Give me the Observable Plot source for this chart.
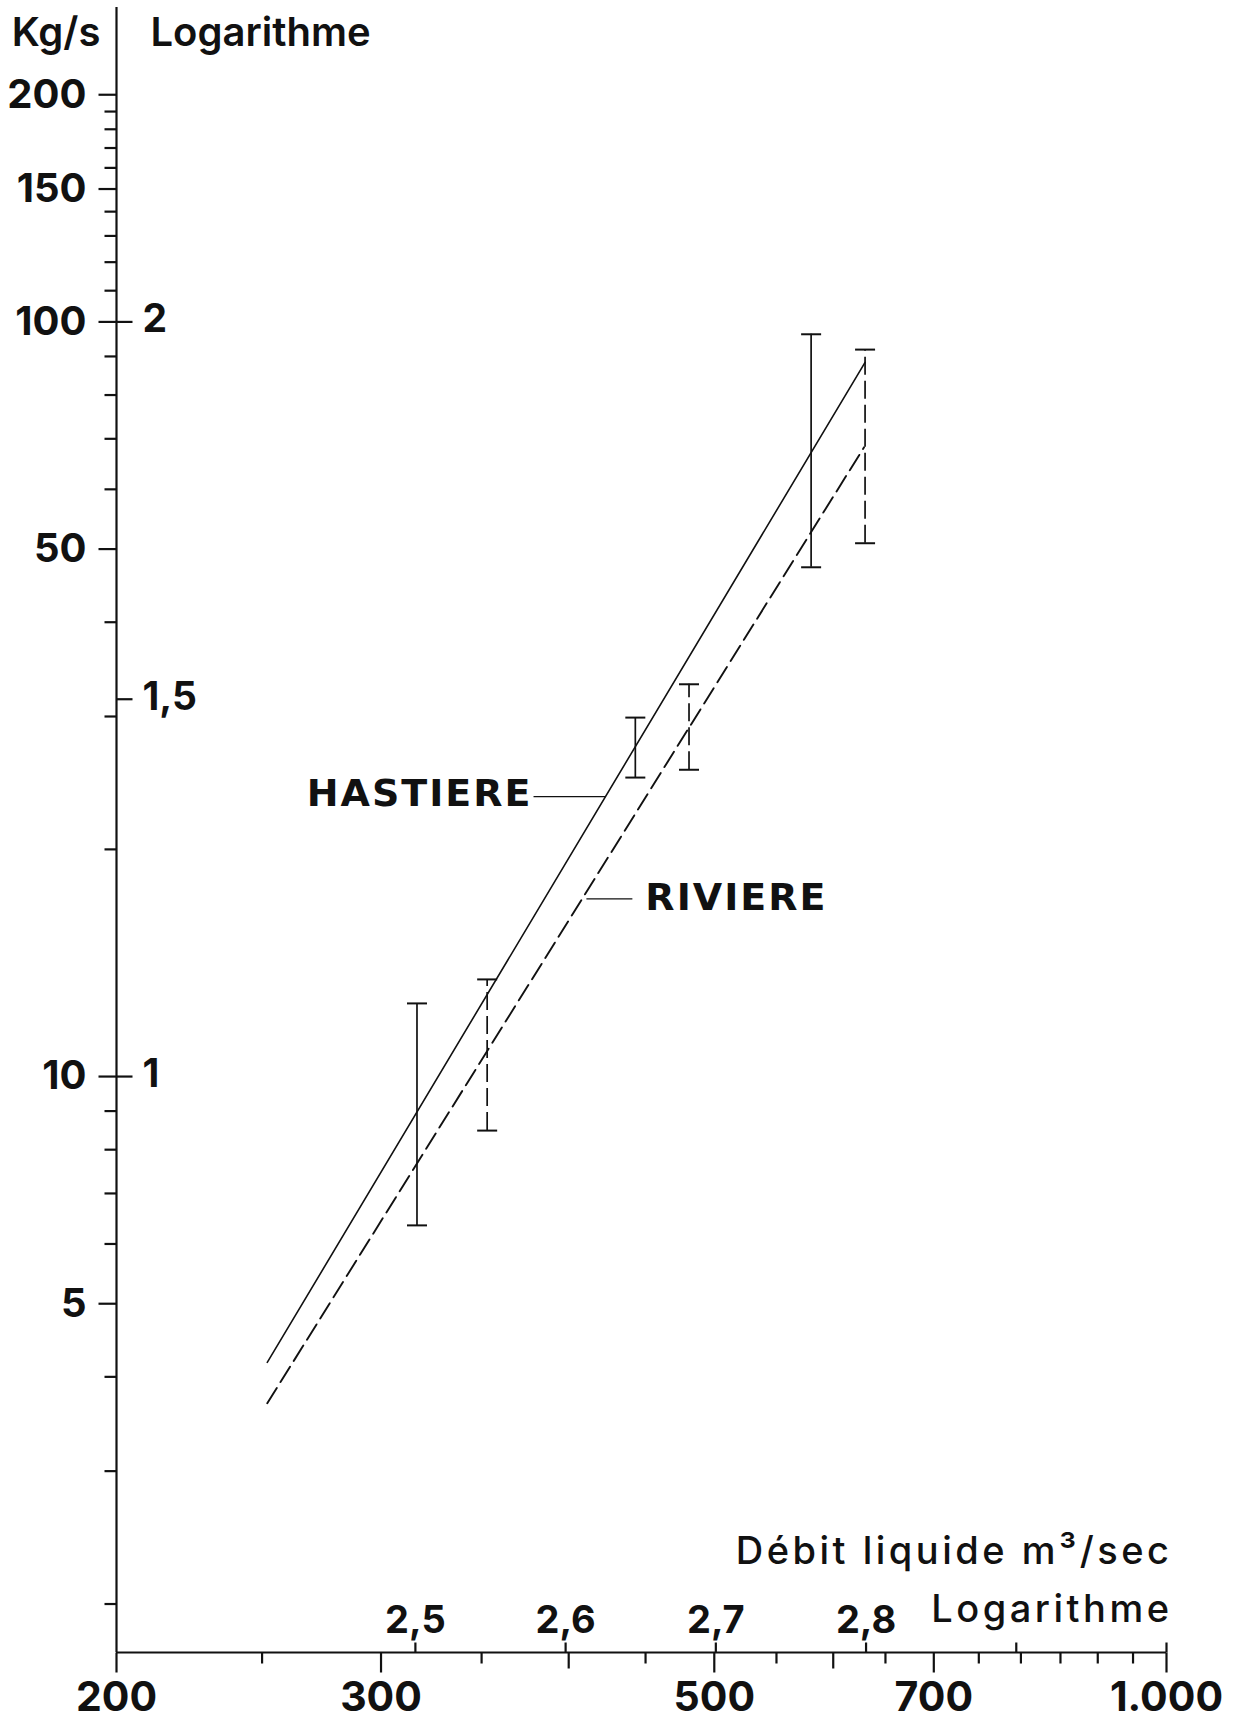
<!DOCTYPE html>
<html>
<head>
<meta charset="utf-8">
<script src="https://cdn.jsdelivr.net/npm/d3@7"></script>
<script src="https://cdn.jsdelivr.net/npm/@observablehq/plot@0.6"></script>
<style>
  html, body { margin: 0; padding: 0; background: #fff; }
  #chart svg { display: block; }
</style>
</head>
<body>
<div id="chart"></div>
<script>
// Transport solide (kg/s) en fonction du débit liquide (m³/s), échelles logarithmiques

// Axe des débits (m³/s)
const debitLabels = [200, 300, 500, 700, 1000];
const debitLabelText = ["200", "300", "500", "700", "1.000"];
const debitMid = [400, 600];
const debitMinor = [250, 350, 450, 550, 650, 750, 800, 850, 900, 950];
const debitLog = [2.5, 2.6, 2.7, 2.8, 2.9, 3.0];
const debitLogText = ["2,5", "2,6", "2,7", "2,8", "", ""];

// Axe du transport solide (kg/s)
const kgMin = 1.725, kgMax = 261;
const kgLabels = [200, 150, 100, 50, 10, 5];
const kgMinor = [190, 180, 170, 160, 140, 130, 120, 110, 90, 80, 70, 60, 40, 30, 20, 9, 8, 7, 6, 4, 3, 2];
const kgLog = [2, 1.5, 1];
const kgLogText = ["2", "1,5", "1"];

// Titres
const xTitles = ["Débit liquide m³/sec", "Logarithme"];
const yTitles = ["Kg/s", "Logarithme"];

// Droites d'ajustement
const stations = ["HASTIERE", "RIVIERE"];
const hastiereDebit = [252, 630];
const hastiereKg = [4.18, 88.4];
const riviereDebit = [252, 629];
const riviereKg = [3.69, 68.2];

// Intervalles de mesure
const barStation = ["HASTIERE", "RIVIERE", "HASTIERE", "RIVIERE", "HASTIERE", "RIVIERE"];
const barDebit = [317, 353, 443, 481, 580, 630];
const barLow = [6.35, 8.48, 24.9, 25.5, 47.3, 50.9];
const barHigh = [12.5, 13.45, 29.9, 33.1, 96.3, 91.9];

// Étiquettes des stations et leurs traits de rappel
const leaderFrom = [379, 411];
const leaderTo = [423, 441];
const leaderKg = [23.5, 17.2];

// Tables construites à partir des tableaux ci-dessus
const lines = [
  ...hastiereDebit.map((d, i) => ({station: "HASTIERE", debit: d, kg: hastiereKg[i]})),
  ...riviereDebit.map((d, i) => ({station: "RIVIERE", debit: d, kg: riviereKg[i]}))
];
const bars = barDebit.map((d, i) => ({station: barStation[i], debit: d, low: barLow[i], high: barHigh[i]}));
const leaders = stations.map((s, i) => ({station: s, x1: leaderFrom[i], x2: leaderTo[i], kg: leaderKg[i]}));

// Symboles de graduation (traits fixes en pixels)
const hline = (left, right) => ({draw(ctx) { ctx.moveTo(-left, 0); ctx.lineTo(right, 0); }});
const vline = (up, down) => ({draw(ctx) { ctx.moveTo(0, -up); ctx.lineTo(0, down); }});

const ink = "#111";
const font = "Inter, 'Liberation Sans', sans-serif";
const heavy = "'DejaVu Sans', Inter, sans-serif";
const tick = {stroke: ink, fill: "none", strokeWidth: 2.2};

const chart = Plot.plot({
  width: 1238,
  height: 1720,
  marginLeft: 116,
  marginRight: 72,
  marginTop: 7,
  marginBottom: 68,
  x: {type: "log", domain: [200, 1000], axis: null},
  y: {type: "log", domain: [kgMin, kgMax], axis: null},
  style: {fontFamily: font, color: ink, background: "#fff"},
  marks: [
    // axes
    Plot.ruleX([200], {stroke: ink, strokeWidth: 2.2}),
    Plot.ruleY([kgMin], {stroke: ink, strokeWidth: 2.2}),

    // graduations verticales
    Plot.dot(kgLabels, {x: () => 200, y: d => d, symbol: hline(18, 0), ...tick}),
    Plot.dot(kgMinor, {x: () => 200, y: d => d, symbol: hline(12, 0), ...tick}),
    Plot.dot(kgLog, {x: () => 200, y: d => 10 ** d, symbol: hline(0, 16), ...tick}),
    Plot.text(kgLabels, {x: () => 200, y: d => d, text: d => String(d), textAnchor: "end", dx: -30,
      fontSize: 40, fontWeight: 700, fill: ink}),
    Plot.text(kgLog, {x: () => 200, y: d => 10 ** d, text: (d, i) => kgLogText[i], textAnchor: "start", dx: 26, dy: -2,
      fontSize: 39, fontWeight: 700, fill: ink}),

    // graduations horizontales
    Plot.dot(debitLabels, {x: d => d, y: () => kgMin, symbol: vline(0, 20), ...tick}),
    Plot.dot(debitMid, {x: d => d, y: () => kgMin, symbol: vline(0, 16), ...tick}),
    Plot.dot(debitMinor, {x: d => d, y: () => kgMin, symbol: vline(0, 11), ...tick}),
    Plot.dot(debitLog, {x: d => 10 ** d, y: () => kgMin, symbol: vline(10, 0), ...tick}),
    Plot.text(debitLabels, {x: d => d, y: () => kgMin, text: (d, i) => debitLabelText[i], dy: 45,
      fontSize: 41, fontWeight: 700, fill: ink}),
    Plot.text(debitLog, {x: d => 10 ** d, y: () => kgMin, text: (d, i) => debitLogText[i], dy: -32,
      fontSize: 38, fontWeight: 700, fill: ink}),

    // titres des axes
    Plot.text([yTitles[0]], {x: () => 200, y: () => kgMax, text: d => d, textAnchor: "end", lineAnchor: "bottom",
      dx: -16, dy: 38, fontSize: 40, fontWeight: 600, fill: ink}),
    Plot.text([yTitles[1]], {x: () => 200, y: () => kgMax, text: d => d, textAnchor: "start", lineAnchor: "bottom",
      dx: 34, dy: 38, fontSize: 40, fontWeight: 600, fill: ink}),
    Plot.text([xTitles[0]], {x: () => 1000, y: () => kgMin, text: d => d,
      textAnchor: "end", lineAnchor: "bottom", dx: 6, dy: -89, fontSize: 38, fontWeight: 500, fill: ink}),
    Plot.text([xTitles[1]], {x: () => 1000, y: () => kgMin, text: d => d,
      textAnchor: "end", lineAnchor: "bottom", dx: 6, dy: -31, fontSize: 38, fontWeight: 500, fill: ink}),

    // droites d'ajustement
    Plot.line(lines.filter(d => d.station === "HASTIERE"), {x: "debit", y: "kg", stroke: ink, strokeWidth: 1.6}),
    Plot.line(lines.filter(d => d.station === "RIVIERE"), {x: "debit", y: "kg", stroke: ink, strokeWidth: 1.9,
      strokeDasharray: "18,7"}),

    // intervalles
    Plot.ruleX(bars.filter(d => d.station === "HASTIERE"), {x: "debit", y1: "low", y2: "high", stroke: ink, strokeWidth: 1.7}),
    Plot.ruleX(bars.filter(d => d.station === "RIVIERE"), {x: "debit", y1: "low", y2: "high", stroke: ink, strokeWidth: 1.7,
      strokeDasharray: "18,6"}),
    Plot.dot(bars, {x: "debit", y: "low", symbol: hline(10, 10), ...tick, strokeWidth: 2}),
    Plot.dot(bars, {x: "debit", y: "high", symbol: hline(10, 10), ...tick, strokeWidth: 2}),

    // étiquettes des stations
    Plot.link(leaders, {x1: "x1", x2: "x2", y1: "kg", y2: "kg", stroke: ink, strokeWidth: 1.3}),
    Plot.text(leaders.filter(d => d.station === "HASTIERE"), {x: "x1", y: "kg", text: "station", textAnchor: "end",
      dx: -1, dy: -3, fontSize: 38, fontWeight: 700, fontFamily: heavy, fill: ink}),
    Plot.text(leaders.filter(d => d.station === "RIVIERE"), {x: "x2", y: "kg", text: "station", textAnchor: "start",
      dx: 13, dy: -1, fontSize: 38, fontWeight: 700, fontFamily: heavy, fill: ink})
  ]
});

// Espacement des lettres : titres de l'axe horizontal (corps 38) et noms des stations
const svg = d3.select(chart);
svg.selectAll("text")
  .filter(function() {
    const size = this.getAttribute("font-size") || this.parentNode.getAttribute("font-size");
    return xTitles.includes(this.textContent) && size === "38";
  })
  .style("letter-spacing", "3.5px");
svg.selectAll("text")
  .filter(function() { return stations.includes(this.textContent); })
  .style("letter-spacing", "2px");

document.getElementById("chart").append(chart);
</script>
</body>
</html>
